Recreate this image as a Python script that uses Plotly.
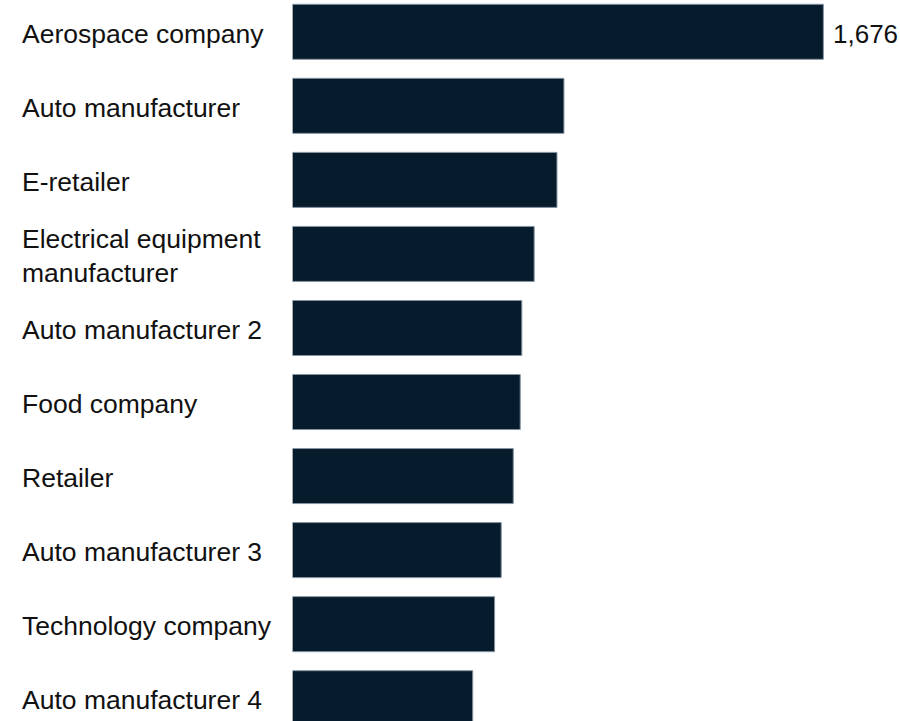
import plotly.graph_objects as go

companies = [
    "Aerospace company",
    "Auto manufacturer",
    "E-retailer",
    "Electrical equipment<br>manufacturer",
    "Auto manufacturer 2",
    "Food company",
    "Retailer",
    "Auto manufacturer 3",
    "Technology company",
    "Auto manufacturer 4",
]
values = [1676, 857, 835, 763, 724, 719, 697, 659, 638, 569]
value_labels = ["1,676", "", "", "", "", "", "", "", "", ""]

FONT = "Liberation Sans, Arial, sans-serif"
BAR = "#061c2c"

fig = go.Figure()
fig.add_trace(go.Bar(
    x=values, y=list(range(len(companies))), orientation="h",
    marker=dict(color=BAR, line=dict(color="#8593a0", width=1)),
    width=0.743, hoverinfo="x",
))

# left-aligned category labels
for i, name in enumerate(companies):
    fig.add_annotation(x=20 / 900, xref="paper", y=i, yref="y", text=name,
                       showarrow=False, xanchor="left", align="left", yshift=-2,
                       font=dict(family=FONT, size=26.5, color="#111111"))

for i, lab in enumerate(value_labels):
    if lab:
        fig.add_annotation(x=values[i], y=i, text=lab, showarrow=False,
                           xanchor="left", xshift=8, yshift=-2,
                           font=dict(family=FONT, size=26, color="#111111"))

fig.update_layout(
    width=900, height=721,
    margin=dict(l=0, r=0, t=0, b=0),
    plot_bgcolor="white", paper_bgcolor="white",
    showlegend=False,
    xaxis=dict(domain=[292.5 / 900, 1], range=[0, 1918], visible=False),
    yaxis=dict(range=[9.308, -0.4295], visible=False),
)

fig.write_html("out.html", config={"displayModeBar": False},
               post_script="document.body.style.margin='0';")
